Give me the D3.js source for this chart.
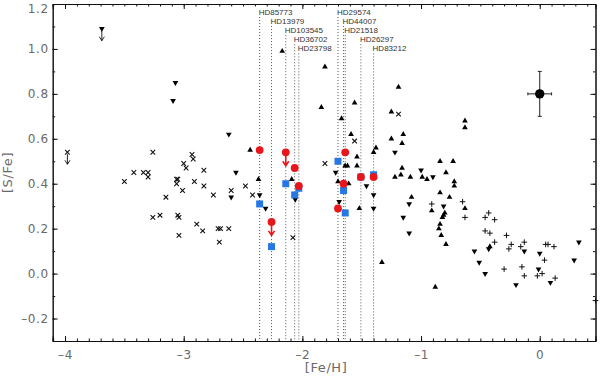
<!DOCTYPE html>
<html>
<head>
<meta charset="utf-8" />
<style>
  body { margin: 0; background: #fff; }
  .tick text { font-family: "DejaVu Sans", sans-serif; font-size: 12px; fill: #6a6a6a; letter-spacing: 0.6px; }
  .tick line, .domain { stroke: #111; }
  .star-label { font-family: "Liberation Sans", Arial, sans-serif; font-size: 8px; fill: #333; }
  .axis-title { font-family: "DejaVu Sans", sans-serif; font-size: 13px; fill: #6a6a6a; letter-spacing: 0.6px; }
</style>
</head>
<body>
<div id="chart"></div>
<script src="https://cdn.jsdelivr.net/npm/d3@7"></script>
<script>
// ---- data ----
var crossFeH = [-3.50,-3.42,-3.34,-3.30,-3.30,-3.26,-3.06,-3.05,-3.06,-3.01,-3.00,-2.98,-2.93,-2.92,-2.91,-2.83,-2.83,-2.75,-3.15,-2.60,
                -3.26,-3.20,-3.05,-3.04,-3.04,-2.89,-2.84,-2.71,-2.69,-2.62,-2.70,-2.48,-2.42,-2.08,-1.81,-1.56,-1.19];
var crossSFe = [0.41,0.45,0.45,0.45,0.43,0.54,0.42,0.42,0.40,0.37,0.49,0.47,0.53,0.51,0.41,0.46,0.39,0.35,0.34,0.37,
                0.25,0.26,0.26,0.25,0.17,0.22,0.19,0.20,0.20,0.20,0.14,0.39,0.35,0.16,0.49,0.59,0.71];

var downFeH = [-3.07,-3.09,-2.62,-2.56,-2.60,-2.36,-2.31,-2.06,-1.72,-1.69,-1.46,-1.40,-1.40,-1.22,-1.00,-0.90,-1.10,-1.15,-1.10,-0.81,
               -0.55,-0.51,-0.46,-0.43,-0.20,-0.13,0.00,-0.01,0.09,0.29,0.33];
var downSFe = [0.85,0.77,0.62,0.45,0.34,0.35,0.29,0.33,0.45,0.32,0.39,0.35,0.29,0.54,0.46,0.43,0.31,0.25,0.18,0.30,
               0.10,0.05,0.00,0.11,-0.05,0.10,0.09,0.02,-0.04,0.06,0.14];

var upFeH = [-2.17,-1.81,-1.84,-1.56,-1.67,-1.25,-1.19,-0.63,-0.63,-1.15,-1.25,-1.16,-0.84,-0.73,-1.16,-1.17,-1.22,-1.09,-0.99,-0.95,
             -0.79,-0.72,-0.72,-0.84,-0.76,-1.08,-0.91,-0.80,-0.81,-0.82,-0.84,-0.85,-0.83,-0.79,-0.88,-0.63,-0.42,-2.44,-2.37,-2.09,
             -1.59,-1.54,-1.54,-1.64,-1.62,-1.70,-1.61,-1.52,-1.40,-1.38,-1.33];
var upSFe = [0.99,0.92,0.74,0.76,0.69,0.72,0.83,0.68,0.65,0.62,0.60,0.58,0.50,0.50,0.47,0.44,0.43,0.43,0.43,0.42,
             0.45,0.41,0.39,0.36,0.34,0.34,0.28,0.27,0.26,0.25,0.22,0.20,0.17,0.13,-0.06,0.29,0.12,0.55,0.42,0.42,
             0.62,0.52,0.48,0.48,0.48,0.41,0.40,0.29,0.54,0.56,0.05];

var plusFeH = [-0.91,-0.65,-0.63,-0.46,-0.43,-0.38,-0.46,-0.42,-0.38,-0.28,-0.24,-0.26,-0.30,-0.16,-0.13,-0.15,-0.13,0.04,-0.02,0.02,
               0.05,0.07,0.12,0.13,0.47];
var plusSFe = [0.31,0.32,0.25,0.25,0.27,0.24,0.19,0.18,0.14,0.17,0.13,0.11,0.02,0.12,0.14,0.03,-0.01,0.06,-0.01,0.00,
               0.13,0.13,0.12,-0.02,-0.12];

// upper limits in the literature sample
var limitCrossFeH = [-3.98], limitCrossSFe = [0.54];
var limitDownFeH = [-3.69], limitDownSFe = [1.09];

// the programme stars
var starNames = ["HD85773","HD13979","HD103545","HD36702","HD23798","HD29574","HD44007","HD21518","HD26297","HD83212"];
var starFeH   = [-2.36, -2.26, -2.14, -2.065, -2.03, -1.70, -1.653, -1.639, -1.507, -1.40];
var redSFe    = [0.55, 0.23, 0.54, 0.47, 0.39, 0.29, 0.40, 0.54, 0.43, 0.43];
var redLimit  = [false, true, true, false, false, false, false, false, false, false];
var blueSFe   = [0.31, 0.12, 0.40, 0.35, 0.38, 0.50, 0.37, 0.27, 0.43, 0.44];

// typical error
var errFeH = [0.0], errSFe = [0.8], errDx = [0.1], errDy = [0.1];

var xMajor = [-4, -3, -2, -1, 0];
var yMajor = [-0.2, 0.0, 0.2, 0.4, 0.6, 0.8, 1.0, 1.2];

// ---- layout ----
var width = 600, height = 376;
var padL = 52.7, padR = 595.5, padT = 4, padB = 341;

var x = d3.scaleLinear().domain([-4.104, 0.47]).range([padL, padR]);
var y = d3.scaleLinear().domain([-0.3, 1.2]).range([padB, padT]);

var svg = d3.select('#chart').append('svg')
    .attr('width', width)
    .attr('height', height);

var xMinor = d3.range(-41, 5).map(function(d) { return d / 10; });
var yMinor = d3.range(-3, 13).map(function(d) { return d / 10; });

function fmt(d) { return d3.format('.1f')(d).replace('-', '\u2013').replace('\u2212', '\u2013'); }
function fmtX(d) { return String(d).replace('-', '\u2013'); }

// minor ticks on all four sides
svg.append('g').attr('transform', 'translate(0,' + padB + ')')
   .call(d3.axisBottom(x).tickValues(xMinor).tickSize(-2.5).tickFormat(''));
svg.append('g').attr('transform', 'translate(0,' + padT + ')')
   .call(d3.axisTop(x).tickValues(xMinor).tickSize(-2.5).tickFormat(''));
svg.append('g').attr('transform', 'translate(' + padL + ',0)')
   .call(d3.axisLeft(y).tickValues(yMinor).tickSize(-2.5).tickFormat(''));
svg.append('g').attr('transform', 'translate(' + padR + ',0)')
   .call(d3.axisRight(y).tickValues(yMinor).tickSize(-2.5).tickFormat(''));

// major ticks
svg.append('g').attr('transform', 'translate(0,' + padB + ')')
   .call(d3.axisBottom(x).tickValues(xMajor).tickSize(-5).tickPadding(9).tickFormat(fmtX));
svg.append('g').attr('transform', 'translate(0,' + padT + ')')
   .call(d3.axisTop(x).tickValues(xMajor).tickSize(-5).tickFormat(''));
var yAx = svg.append('g').attr('transform', 'translate(' + padL + ',0)')
   .call(d3.axisLeft(y).tickValues(yMajor).tickSize(-5).tickPadding(4).tickFormat(fmt));
svg.append('g').attr('transform', 'translate(' + padR + ',0)')
   .call(d3.axisRight(y).tickValues(yMajor).tickSize(-5).tickFormat(''));

// keep the top label inside the picture
yAx.selectAll('.tick text').attr('y', function(d) { return y(d) < 9 ? 9 - y(d) : 0; });
svg.selectAll('.domain').attr('stroke-width', 1);

// axis titles
svg.append('text').attr('class', 'axis-title')
   .attr('x', (padL + padR) / 2 + 2).attr('y', 372)
   .attr('text-anchor', 'middle').text('[Fe/H]');
svg.append('text').attr('class', 'axis-title')
   .attr('transform', 'translate(12,' + (padT + padB) / 2 + ') rotate(-90)')
   .attr('text-anchor', 'middle').text('[S/Fe]');

// ---- dotted guide lines and star names ----
var stars = starNames.map(function(n, i) {
  return { name: n, feh: starFeH[i], red: redSFe[i], lim: redLimit[i], blue: blueSFe[i], row: i % 5 };
});

svg.selectAll('line.guide').data(stars).enter().append('line')
   .attr('class', 'guide')
   .attr('x1', function(d) { return x(d.feh); })
   .attr('x2', function(d) { return x(d.feh); })
   .attr('y1', function(d) { return 17 + d.row * 9.1; })
   .attr('y2', padB)
   .attr('stroke', '#444')
   .attr('stroke-width', 0.9)
   .attr('stroke-dasharray', '1,2');

svg.selectAll('text.star-label').data(stars).enter().append('text')
   .attr('class', 'star-label')
   .attr('x', function(d) { return x(d.feh) - 1; })
   .attr('y', function(d) { return 15 + d.row * 9.1; })
   .text(function(d) { return d.name; });

// ---- literature sample ----
function pairs(a, b) { return a.map(function(v, i) { return [v, b[i]]; }); }

var tri = d3.symbol().type(d3.symbolTriangle).size(14);

svg.selectAll('path.cross').data(pairs(crossFeH, crossSFe).concat(pairs(limitCrossFeH, limitCrossSFe))).enter()
   .append('path').attr('class', 'cross')
   .attr('transform', function(d) { return 'translate(' + x(d[0]) + ',' + y(d[1]) + ')'; })
   .attr('d', 'M-2.3,-2.3L2.3,2.3M-2.3,2.3L2.3,-2.3')
   .attr('stroke', '#111').attr('stroke-width', 1.1).attr('fill', 'none');

svg.selectAll('path.plus').data(pairs(plusFeH, plusSFe)).enter()
   .append('path').attr('class', 'plus')
   .attr('transform', function(d) { return 'translate(' + x(d[0]) + ',' + y(d[1]) + ')'; })
   .attr('d', 'M-2.8,0L2.8,0M0,-2.8L0,2.8')
   .attr('stroke', '#111').attr('stroke-width', 1).attr('fill', 'none');

svg.selectAll('path.up').data(pairs(upFeH, upSFe)).enter()
   .append('path').attr('class', 'up')
   .attr('transform', function(d) { return 'translate(' + x(d[0]) + ',' + y(d[1]) + ')'; })
   .attr('d', tri).attr('fill', '#000');

svg.selectAll('path.down').data(pairs(downFeH, downSFe).concat(pairs(limitDownFeH, limitDownSFe))).enter()
   .append('path').attr('class', 'down')
   .attr('transform', function(d) { return 'translate(' + x(d[0]) + ',' + y(d[1]) + ') rotate(180)'; })
   .attr('d', tri).attr('fill', '#000');

// black upper-limit arrows
svg.selectAll('path.blim').data(pairs(limitCrossFeH, limitCrossSFe).concat(pairs(limitDownFeH, limitDownSFe))).enter()
   .append('path').attr('class', 'blim')
   .attr('transform', function(d) { return 'translate(' + x(d[0]) + ',' + y(d[1]) + ')'; })
   .attr('d', 'M0,2L0,12M-2.5,8L0,12L2.5,8')
   .attr('stroke', '#111').attr('stroke-width', 0.9).attr('fill', 'none');

// ---- programme stars ----
svg.selectAll('rect.blue').data(stars).enter().append('rect')
   .attr('class', 'blue')
   .attr('x', function(d) { return x(d.feh) - 3.5; })
   .attr('y', function(d) { return y(d.blue) - 3.5; })
   .attr('width', 7).attr('height', 7)
   .attr('fill', '#2677e4');

svg.selectAll('path.rlim').data(stars.filter(function(d) { return d.lim; })).enter()
   .append('path').attr('class', 'rlim')
   .attr('transform', function(d) { return 'translate(' + x(d.feh) + ',' + y(d.red) + ')'; })
   .attr('d', 'M0,2L0,13M-3,9L0,13.5L3,9')
   .attr('stroke', '#e8161b').attr('stroke-width', 1.6).attr('fill', 'none');

svg.selectAll('circle.red').data(stars).enter().append('circle')
   .attr('class', 'red')
   .attr('cx', function(d) { return x(d.feh); })
   .attr('cy', function(d) { return y(d.red); })
   .attr('r', 3.9)
   .attr('fill', '#e8161b');

// ---- typical error bar ----
var err = errFeH.map(function(v, i) { return { x: v, y: errSFe[i], dx: errDx[i], dy: errDy[i] }; });
var eg = svg.selectAll('g.err').data(err).enter().append('g').attr('class', 'err')
   .attr('stroke', '#222').attr('stroke-width', 1);
eg.append('line')
  .attr('x1', function(d) { return x(d.x - d.dx); }).attr('x2', function(d) { return x(d.x + d.dx); })
  .attr('y1', function(d) { return y(d.y); }).attr('y2', function(d) { return y(d.y); });
eg.append('line')
  .attr('x1', function(d) { return x(d.x); }).attr('x2', function(d) { return x(d.x); })
  .attr('y1', function(d) { return y(d.y - d.dy); }).attr('y2', function(d) { return y(d.y + d.dy); });
[-1, 1].forEach(function(s) {
  eg.append('line')
    .attr('x1', function(d) { return x(d.x + s * d.dx); }).attr('x2', function(d) { return x(d.x + s * d.dx); })
    .attr('y1', function(d) { return y(d.y) - 1.5; }).attr('y2', function(d) { return y(d.y) + 1.5; });
  eg.append('line')
    .attr('x1', function(d) { return x(d.x) - 2; }).attr('x2', function(d) { return x(d.x) + 2; })
    .attr('y1', function(d) { return y(d.y + s * d.dy); }).attr('y2', function(d) { return y(d.y + s * d.dy); });
});
eg.append('circle')
  .attr('cx', function(d) { return x(d.x); }).attr('cy', function(d) { return y(d.y); })
  .attr('r', 4.7).attr('fill', '#000').attr('stroke', 'none');
</script>
</body>
</html>
